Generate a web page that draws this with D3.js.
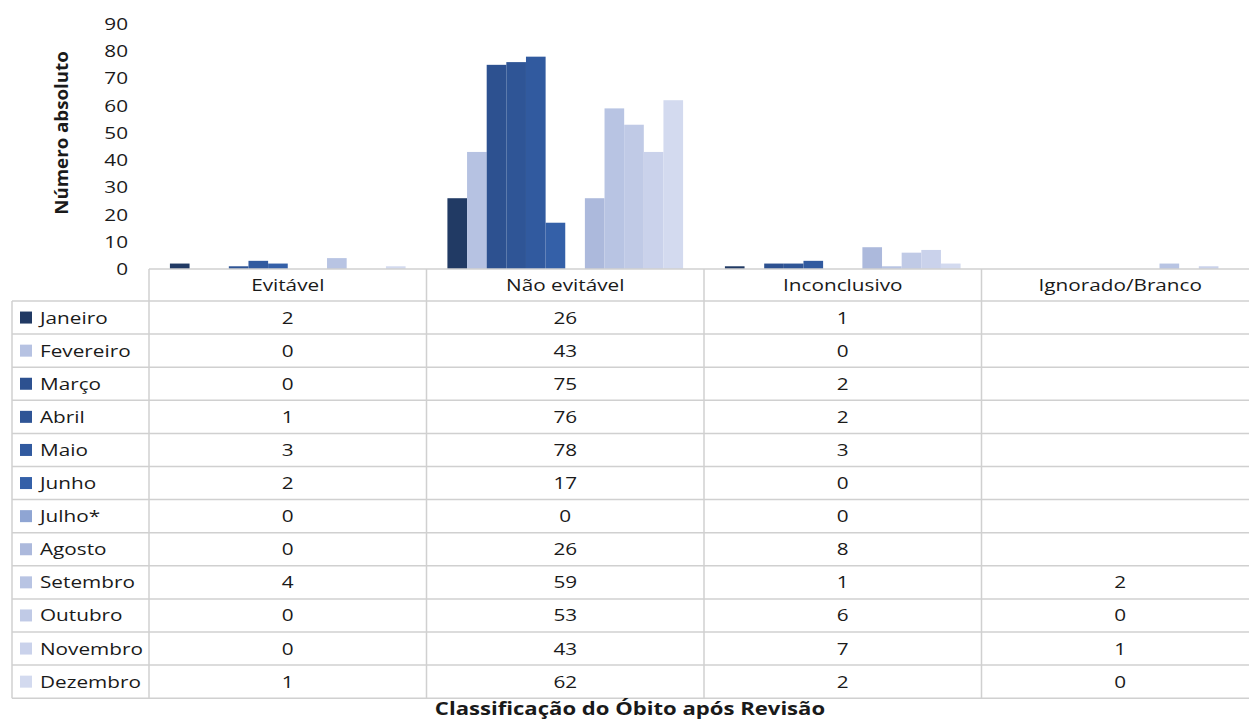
<!DOCTYPE html>
<html>
<head>
<meta charset="utf-8">
<script src="https://cdn.jsdelivr.net/npm/d3@7"></script>
<style>
  body { margin: 0; background: #fff; }
  text { font-family: "Open Sans", sans-serif; fill: #1a1a1a; }
</style>
</head>
<body>
<svg id="chart" width="1249" height="720"></svg>
<script>
// DATA
const months = ["Janeiro", "Fevereiro", "Março", "Abril", "Maio", "Junho",
                "Julho*", "Agosto", "Setembro", "Outubro", "Novembro", "Dezembro"];
const categories = ["Evitável", "Não evitável", "Inconclusivo", "Ignorado/Branco"];
const evitavel     = [2, 0, 0, 1, 3, 2, 0, 0, 4, 0, 0, 1];
const naoEvitavel  = [26, 43, 75, 76, 78, 17, 0, 26, 59, 53, 43, 62];
const inconclusivo = [1, 0, 2, 2, 3, 0, 0, 8, 1, 6, 7, 2];
const ignorado     = [null, null, null, null, null, null, null, null, 2, 0, 1, 0];
const monthColors  = ["#213a64", "#b6c2e2", "#2d5190", "#2f5596", "#315a9f", "#3460a8",
                      "#8fa5d3", "#acb9dc", "#b8c4e3", "#c0cae6", "#cad2eb", "#d3daef"];
const yTicks = [0, 10, 20, 30, 40, 50, 60, 70, 80, 90];

const series = [evitavel, naoEvitavel, inconclusivo, ignorado];

// layout
const svg = d3.select("#chart");
const plotLeft = 149, plotRight = 1259;
const baseY = 269;
const rowTop = 301, rowH = 33.1;
const tableLeft = 12;
const lineColor = "#d0d0d0";
const sx = 1.22; // text in the reference is a bit wider than the installed fonts

// widen text horizontally around its anchor point
function stretch(sel, s) {
  sel.each(function () {
    const t = d3.select(this);
    const tx = +t.attr("x") || 0;
    const ty = +t.attr("y") || 0;
    t.attr("transform", `translate(${tx},${ty}) scale(${s},1)`)
      .attr("x", 0).attr("y", 0);
  });
}

var x = d3.scaleBand()
  .domain(categories)
  .range([plotLeft, plotRight])
  .padding(0);

var xm = d3.scaleBand()
  .domain(months)
  .range([0, x.bandwidth()])
  .paddingInner(0)
  .paddingOuter(1.065);

var y = d3.scaleLinear()
  .domain([0, 90])
  .range([baseY, 24]);

var rowY = d3.scaleBand()
  .domain(months)
  .range([rowTop, rowTop + rowH * months.length]);

var color = d3.scaleOrdinal().domain(months).range(monthColors);

// y axis (labels only)
const yAxis = d3.axisLeft(y).tickValues(yTicks).tickSize(0).tickPadding(21);
const yAxisG = svg.append("g")
  .attr("transform", `translate(${plotLeft},0)`)
  .call(yAxis);
yAxisG.select(".domain").remove();
yAxisG.selectAll("text")
  .style("font-family", '"Open Sans", sans-serif')
  .style("font-size", "17px")
  .attr("fill", "#1a1a1a")
  .call(stretch, sx);

svg.append("text")
  .attr("transform", `translate(68,${133}) rotate(-90) scale(1.1,1)`)
  .attr("text-anchor", "middle")
  .style("font-size", "17px")
  .style("font-weight", "bold")
  .text("Número absoluto");

// bars
const barData = [];
categories.forEach((c, ci) => {
  months.forEach((m, mi) => {
    const v = series[ci][mi];
    if (v != null) barData.push({ cat: c, month: m, value: v });
  });
});

svg.append("g").selectAll("rect")
  .data(barData)
  .enter().append("rect")
  .attr("x", d => x(d.cat) + xm(d.month))
  .attr("y", d => y(d.value))
  .attr("width", xm.bandwidth())
  .attr("height", d => y(0) - y(d.value))
  .attr("fill", d => color(d.month));

// table
const tableBottom = rowTop + rowH * months.length;
const grid = svg.append("g").attr("stroke", lineColor).attr("stroke-width", 1.5);

// top border of header row
grid.append("line")
  .attr("x1", plotLeft).attr("x2", plotRight)
  .attr("y1", baseY).attr("y2", baseY);

// row lines
d3.range(months.length + 1).forEach(i => {
  const yy = rowTop + rowH * i;
  grid.append("line")
    .attr("x1", tableLeft).attr("x2", plotRight)
    .attr("y1", yy).attr("y2", yy);
});

// column lines
grid.append("line")
  .attr("x1", tableLeft).attr("x2", tableLeft)
  .attr("y1", rowTop).attr("y2", tableBottom);
categories.forEach(c => {
  grid.append("line")
    .attr("x1", x(c)).attr("x2", x(c))
    .attr("y1", baseY).attr("y2", tableBottom);
});

// header labels
svg.append("g").selectAll("text")
  .data(categories)
  .enter().append("text")
  .attr("x", d => x(d) + x.bandwidth() / 2)
  .attr("y", (baseY + rowTop) / 2)
  .attr("dy", "0.35em")
  .attr("text-anchor", "middle")
  .style("font-size", "17px")
  .text(d => d)
  .call(stretch, sx);

// legend column
const legend = svg.append("g").selectAll("g")
  .data(months)
  .enter().append("g")
  .attr("transform", d => `translate(0,${rowY(d) + rowY.bandwidth() / 2})`);

legend.append("rect")
  .attr("x", 20).attr("y", -6)
  .attr("width", 12).attr("height", 12)
  .attr("fill", d => color(d));

legend.append("text")
  .attr("x", 40)
  .attr("dy", "0.35em")
  .style("font-size", "17px")
  .text(d => d)
  .call(stretch, sx);

// value cells
const cells = [];
categories.forEach((c, ci) => {
  months.forEach((m, mi) => {
    const v = series[ci][mi];
    if (v != null) cells.push({ cat: c, month: m, value: v });
  });
});

svg.append("g").selectAll("text")
  .data(cells)
  .enter().append("text")
  .attr("x", d => x(d.cat) + x.bandwidth() / 2)
  .attr("y", d => rowY(d.month) + rowY.bandwidth() / 2)
  .attr("dy", "0.35em")
  .attr("text-anchor", "middle")
  .style("font-size", "17px")
  .text(d => d.value)
  .call(stretch, sx);

// x axis title
svg.append("text")
  .attr("x", 630)
  .attr("y", 710)
  .attr("dy", "0.32em")
  .attr("text-anchor", "middle")
  .style("font-size", "17px")
  .style("font-weight", "bold")
  .text("Classificação do Óbito após Revisão")
  .call(stretch, 1.3);
</script>
</body>
</html>
